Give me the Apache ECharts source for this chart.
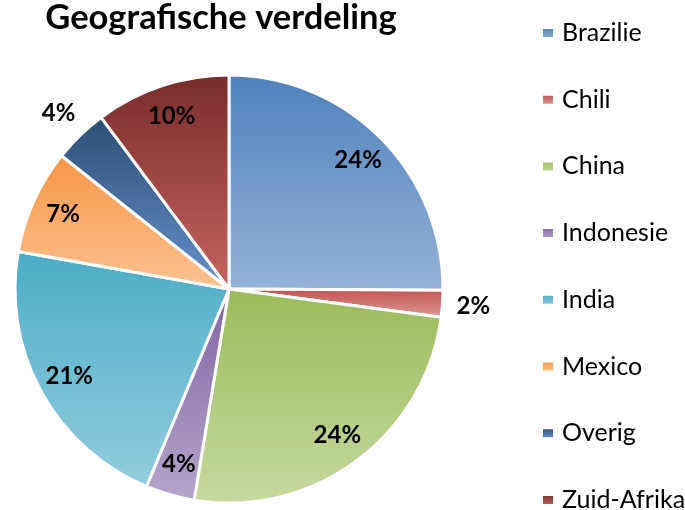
<!DOCTYPE html>
<html>
<head>
<meta charset="utf-8">
<script src="https://cdn.jsdelivr.net/npm/echarts@6/dist/echarts.min.js"></script>
<style>
html,body{margin:0;padding:0;background:#fff;}
#chart{width:685px;height:510px;}
</style>
</head>
<body>
<div id="chart"></div>
<script>
// Data
const categories = ['Brazilie', 'Chili', 'China', 'Indonesie', 'India', 'Mexico', 'Overig', 'Zuid-Afrika'];
const shares = [25.1, 2.0, 25.5, 3.7, 21.5, 7.9, 4.1, 10.2];
const labelTexts = ['24%', '2%', '24%', '4%', '21%', '7%', '4%', '10%'];
const titleText = 'Geografische verdeling';

// Styles
const topColors = ['#4F81BD', '#C0504D', '#9BBB59', '#8064A2', '#4BACC6', '#F79646', '#2C4D75', '#772C2A'];
const bottomColors = ['#95B3D7', '#E09C9A', '#C6D9A0', '#B5A5CA', '#93CDDD', '#FAC291', '#6592CC', '#C66461'];
const outsideNames = ['Chili', 'Overig'];
const FONT = 'Lato';
const CENTER = [229, 289];

const chart = echarts.init(document.getElementById('chart'), null, {renderer: 'canvas'});

function grad(i) {
  return new echarts.graphic.LinearGradient(0, 0, 0, 1, [
    {offset: 0, color: topColors[i]},
    {offset: 1, color: bottomColors[i]}
  ]);
}

function labelSeries(radius, showFn) {
  return {
    type: 'pie',
    center: CENTER,
    radius: [0, radius],
    startAngle: 90,
    clockwise: true,
    silent: true,
    legendHoverLink: false,
    avoidLabelOverlap: false,
    emphasis: {disabled: true},
    z: 5,
    labelLine: {show: false},
    data: categories.map((c, i) => ({
      name: c,
      value: shares[i],
      itemStyle: {color: 'rgba(0,0,0,0)', borderWidth: 0},
      label: {
        show: showFn(c),
        position: 'inside',
        formatter: labelTexts[i],
        color: '#000',
        fontFamily: FONT,
        fontWeight: 'bold',
        fontSize: 24
      }
    }))
  };
}

const option = {
  animation: false,
  backgroundColor: '#fff',
  title: {
    text: titleText,
    left: 221,
    top: 1,
    padding: 0,
    textAlign: 'center',
    textStyle: {fontFamily: FONT, fontWeight: 'bold', fontSize: 34.5, lineHeight: 34, color: '#000'}
  },
  legend: {
    orient: 'vertical',
    left: 541,
    top: 20.5,
    padding: 0,
    height: 500,
    itemWidth: 12,
    itemHeight: 10,
    itemGap: 41.7,
    icon: 'rect',
    selectedMode: false,
    data: categories,
    textStyle: {fontFamily: FONT, fontSize: 25, color: '#000', padding: [0, 0, 0, 3]}
  },
  series: [
    {
      type: 'pie',
      center: CENTER,
      radius: [0, 214],
      startAngle: 90,
      clockwise: true,
      emphasis: {disabled: true},
      label: {show: false},
      labelLine: {show: false},
      itemStyle: {borderColor: '#fff', borderWidth: 3},
      data: categories.map((c, i) => ({name: c, value: shares[i], itemStyle: {color: grad(i)}}))
    },
    labelSeries(358, c => outsideNames.indexOf(c) < 0),
    labelSeries(484, c => outsideNames.indexOf(c) >= 0)
  ]
};
chart.setOption(option);
</script>
</body>
</html>
